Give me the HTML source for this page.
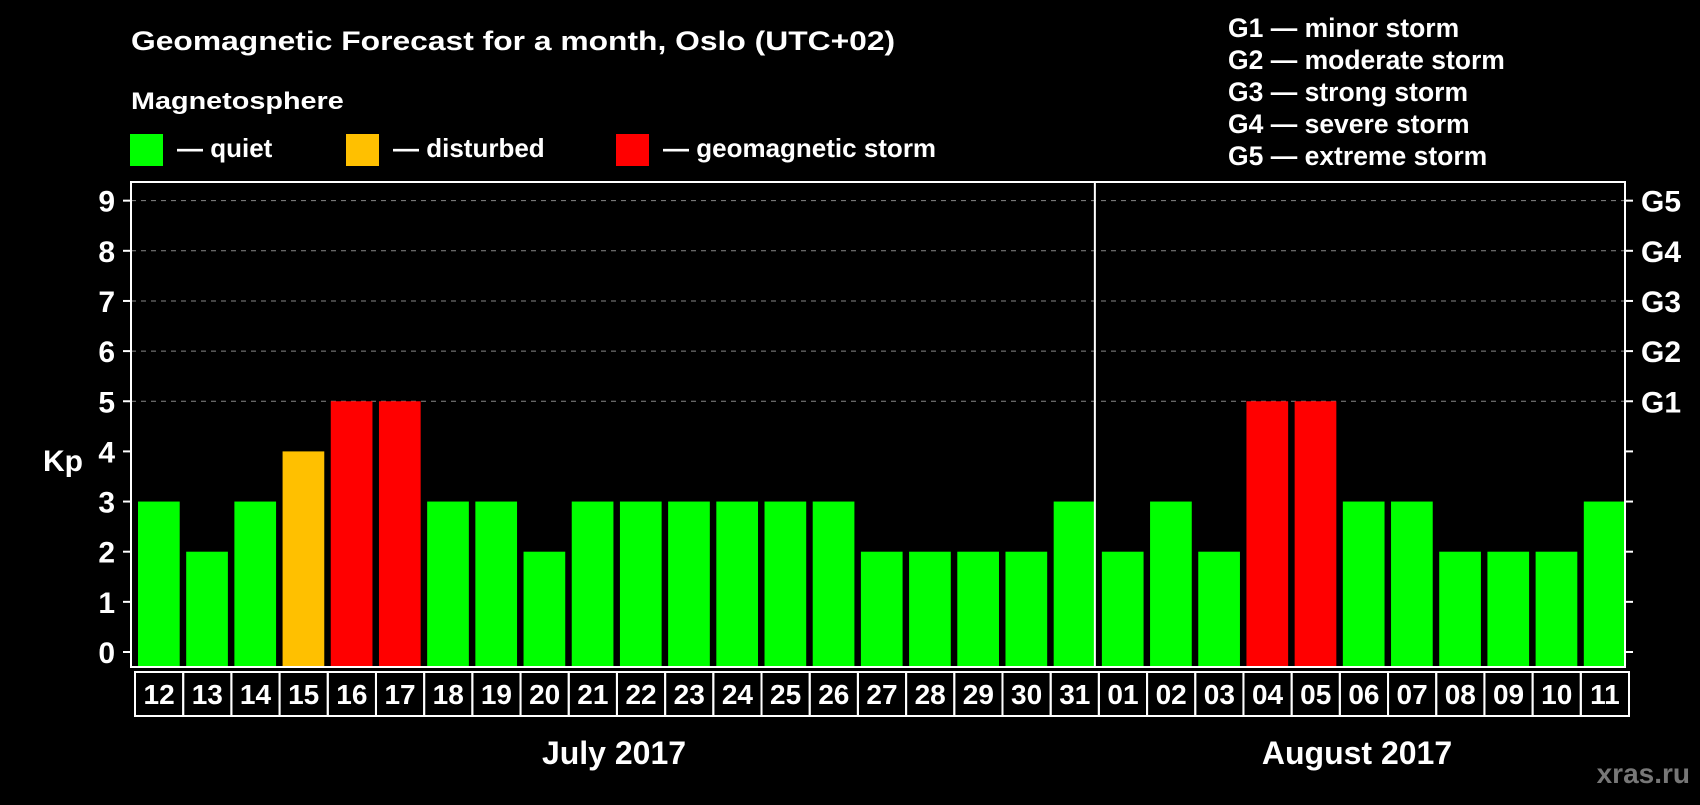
<!DOCTYPE html>
<html><head><meta charset="utf-8"><style>
body{margin:0;background:#000;width:1700px;height:800px;overflow:hidden}
svg text{font-family:"Liberation Sans",Arial,sans-serif;font-weight:bold;fill:#fff}
</style></head><body>
<svg id="c" width="1700" height="800" xmlns="http://www.w3.org/2000/svg">
<text x="131" y="50" font-size="26.5" transform="translate(131 0) scale(1.2 1) translate(-131 0)">Geomagnetic Forecast for a month, Oslo (UTC+02)</text>
<text x="131" y="109" font-size="24" transform="translate(131 0) scale(1.2 1) translate(-131 0)">Magnetosphere</text>
<g><rect x="130" y="134" width="33" height="32" fill="#00ff00"/><text x="177" y="157" font-size="26">— quiet</text></g>
<g><rect x="346" y="134" width="33" height="32" fill="#ffc000"/><text x="393" y="157" font-size="26">— disturbed</text></g>
<g><rect x="616" y="134" width="33" height="32" fill="#ff0000"/><text x="663" y="157" font-size="26">— geomagnetic storm</text></g>
<g font-size="26.5">
<text x="1228" y="37">G1 — minor storm</text>
<text x="1228" y="69">G2 — moderate storm</text>
<text x="1228" y="101">G3 — strong storm</text>
<text x="1228" y="133">G4 — severe storm</text>
<text x="1228" y="165">G5 — extreme storm</text>
</g>
<text x="43" y="471" font-size="30">Kp</text>
<text x="614" y="764" font-size="32" text-anchor="middle">July 2017</text>
<text x="1357" y="764" font-size="32" text-anchor="middle">August 2017</text>
<text x="1690" y="783" font-size="28" text-anchor="end" style="fill:#777">xras.ru</text>
<g id="plot"></g>
</svg>
<script>
const days=["12","13","14","15","16","17","18","19","20","21","22","23","24","25","26","27","28","29","30","31","01","02","03","04","05","06","07","08","09","10","11"];
const kp=[3,2,3,4,5,5,3,3,2,3,3,3,3,3,3,2,2,2,2,3,2,3,2,5,5,3,3,2,2,2,3];
const yTicks=[0,1,2,3,4,5,6,7,8,9];
const gLabels=["G1","G2","G3","G4","G5"];
const L=131,R=1625,T=182,B=667,Y0=652,UNIT=50.15;
const slot=(R-L)/days.length;
const y=v=>Y0-v*UNIT;
const x=i=>L+i*slot;
const g=document.getElementById('plot');
const NS="http://www.w3.org/2000/svg";
function mk(tag,attrs){const e=document.createElementNS(NS,tag);for(const k in attrs)e.setAttribute(k,attrs[k]);g.appendChild(e);return e;}
yTicks.forEach(v=>{
  if(v>=5){const l=mk('line',{x1:L,x2:R,y1:y(v),y2:y(v),stroke:'#888','stroke-dasharray':'5,5','stroke-width':1});
  
  }
  const t1=mk('line',{x1:L-8,x2:L,y1:y(v),y2:y(v),stroke:'#fff','stroke-width':2});
  
  
  const t2=mk('line',{x1:R,x2:R+8,y1:y(v),y2:y(v),stroke:'#fff','stroke-width':2});
  
  
  const tx=mk('text',{x:115,y:y(v)+11,'font-size':30,'text-anchor':'end'});tx.textContent=v;
  
  
});
gLabels.forEach((s,i)=>{const t=mk('text',{x:1641,y:y(5+i)+11,'font-size':30});t.textContent=s;
  
  });
kp.forEach((v,i)=>{
  const col=v>=5?'#ff0000':(v>=4?'#ffc000':'#00ff00');
  const r=mk('rect',{x:x(i)+7,y:y(v),width:slot-6.5,height:B-y(v)-1,fill:col});
  
  
  const b=mk('rect',{x:x(i)+4,y:672,width:slot,height:44,fill:'none',stroke:'#fff','stroke-width':2});
  
  
  const t=mk('text',{x:x(i)+4+slot/2,y:704,'font-size':28,'text-anchor':'middle'});t.textContent=days[i];
  
  
});
const f=mk('rect',{x:L,y:T,width:R-L,height:B-T,fill:'none',stroke:'#fff','stroke-width':2});


const d=mk('line',{x1:x(20),x2:x(20),y1:T,y2:B,stroke:'#fff','stroke-width':2});


</script>
</body></html>
